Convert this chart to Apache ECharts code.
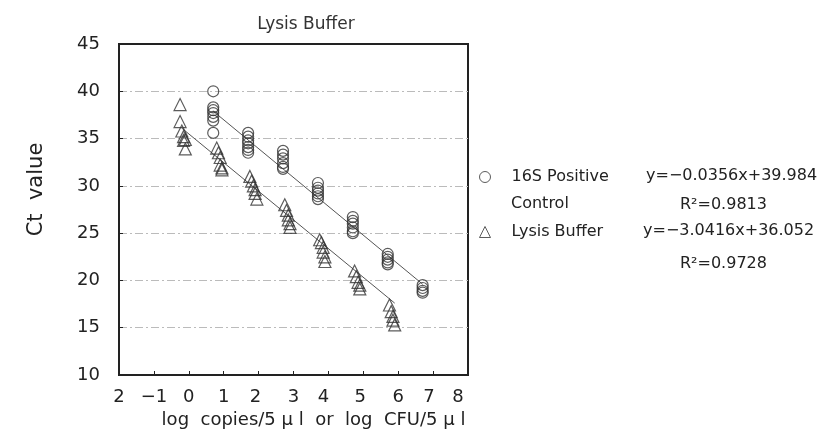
<!DOCTYPE html>
<html>
<head>
<meta charset="utf-8">
<script src="https://cdn.jsdelivr.net/npm/echarts@6/dist/echarts.min.js"></script>
<style>
  html, body { margin: 0; padding: 0; background: #fff; }
  #myChart { width: 819px; height: 429px; }
</style>
</head>
<body>
<div id="myChart"></div>
<script>
  // 16S Positive Control: one log value per dilution, several Ct replicates each
  var controlLog = [0.7, 1.7, 2.7, 3.7, 4.7, 5.7, 6.7];
  var controlCt = [
    [40.0, 38.3, 38.0, 37.7, 37.3, 36.9, 35.6],
    [35.6, 35.2, 34.8, 34.5, 34.1, 33.8, 33.5],
    [33.7, 33.3, 32.9, 32.4, 32.0, 31.8],
    [30.3, 29.8, 29.5, 29.2, 28.9, 28.6],
    [26.7, 26.3, 26.0, 25.6, 25.2, 25.0],
    [22.8, 22.5, 22.2, 21.9, 21.7],
    [19.5, 19.2, 18.9, 18.7]
  ];
  // Lysis Buffer points (x drifts a little inside each dilution)
  var lysisLog = [-0.25, -0.25, -0.2, -0.15, -0.1, -0.15, -0.1,
    0.8, 0.85, 0.9, 0.9, 0.95, 0.95,
    1.75, 1.8, 1.85, 1.9, 1.9, 1.95,
    2.75, 2.8, 2.85, 2.85, 2.9, 2.9,
    3.75, 3.8, 3.85, 3.85, 3.9, 3.9,
    4.75, 4.8, 4.85, 4.9, 4.9,
    5.75, 5.8, 5.85, 5.85, 5.9];
  var lysisCt = [38.6, 36.8, 35.8, 35.2, 34.9, 34.8, 33.9,
    34.0, 33.5, 33.0, 32.2, 31.9, 31.7,
    31.0, 30.5, 30.0, 29.6, 29.2, 28.6,
    28.0, 27.4, 26.9, 26.4, 26.0, 25.6,
    24.3, 24.0, 23.5, 23.0, 22.5, 22.0,
    21.0, 20.4, 19.8, 19.5, 19.1,
    17.4, 16.7, 16.2, 15.8, 15.3];
  // trend lines as drawn
  var controlTrendX = [0.7, 6.7];
  var controlTrendY = [37.9, 19.6];
  var lysisTrendX = [-0.2, 5.9];
  var lysisTrendY = [36.1, 17.6];

  var seriesNames = ['16S Positive', 'Lysis Buffer'];
  var equations = ['y=\u22120.0356x+39.984', 'y=\u22123.0416x+36.052'];
  var rSquared = ['0.9813', '0.9728'];

  var controlData = [];
  for (var i = 0; i < controlLog.length; i++) {
    for (var j = 0; j < controlCt[i].length; j++) {
      controlData.push([controlLog[i], controlCt[i][j]]);
    }
  }
  var lysisData = [];
  for (var k = 0; k < lysisLog.length; k++) {
    lysisData.push([lysisLog[k], lysisCt[k]]);
  }
  function pairs(xs, ys) {
    var out = [];
    for (var n = 0; n < xs.length; n++) out.push([xs[n], ys[n]]);
    return out;
  }

  var font = '"DejaVu Sans", sans-serif';
  var textColor = '#222';
  // the printed x labels sit a little off their ticks
  var xLabelShift = { '2': -3, '4': -5, '5': -3, '7': -4, '8': -10 };

  var myChart = echarts.init(document.getElementById('myChart'));
  var option = {
    animation: false,
    backgroundColor: '#fff',
    textStyle: { fontFamily: font },
    title: {
      text: 'Lysis Buffer',
      left: 301,
      textAlign: 'center',
      top: 11,
      textStyle: { fontSize: 17, fontWeight: 'normal', color: '#333', fontFamily: font }
    },
    grid: {
      left: 119, right: 351, top: 44, bottom: 54,
      containLabel: false,
      outerBoundsMode: 'none',
      show: true, borderColor: '#222', borderWidth: 2
    },
    legend: {
      orient: 'vertical',
      left: 474,
      top: 162,
      itemWidth: 11,
      itemHeight: 11,
      itemGap: 35,
      data: [
        { name: seriesNames[0], icon: 'circle' },
        { name: seriesNames[1], icon: 'triangle' }
      ],
      itemStyle: { color: 'rgba(0,0,0,0)', borderColor: '#333', borderWidth: 1 },
      textStyle: { fontSize: 16, color: textColor, fontFamily: font, lineHeight: 20, padding: [0, 0, 0, 16] }
    },
    xAxis: {
      type: 'value',
      min: -2, max: 8, interval: 1,
      name: 'log  copies/5 \u03bc l  or  log  CFU/5 \u03bc l',
      nameLocation: 'middle',
      nameGap: 36,
      nameTextStyle: { fontSize: 18, color: textColor, fontFamily: font, padding: [0, 0, 0, 40] },
      axisLine: { onZero: false, lineStyle: { color: '#222', width: 2 } },
      axisTick: { inside: true, length: 4, lineStyle: { color: '#222' } },
      axisLabel: {
        fontSize: 18, color: textColor, margin: 13,
        formatter: function (v) {
          var s = v === -2 ? '2' : (v < 0 ? '\u2212' + Math.abs(v) : String(v));
          var d = xLabelShift[String(v)];
          return d ? '{s' + (-d) + '|' + s + '}' : s;
        },
        rich: {
          s3: { fontSize: 18, color: textColor, padding: [0, 6, 0, 0] },
          s4: { fontSize: 18, color: textColor, padding: [0, 8, 0, 0] },
          s5: { fontSize: 18, color: textColor, padding: [0, 10, 0, 0] },
          s10: { fontSize: 18, color: textColor, padding: [0, 20, 0, 0] }
        }
      },
      splitLine: { show: false }
    },
    yAxis: {
      type: 'value',
      min: 10, max: 45, interval: 5,
      name: 'Ct  value',
      nameLocation: 'middle',
      nameGap: 72,
      nameRotate: 90,
      nameTextStyle: { fontSize: 21, color: textColor, fontFamily: font, padding: [0, 0, 0, 40] },
      axisLine: { onZero: false, lineStyle: { color: '#222', width: 2 } },
      axisTick: { inside: true, length: 4, lineStyle: { color: '#222' } },
      axisLabel: { fontSize: 18, color: textColor, margin: 19 },
      splitLine: {
        show: true, showMinLine: false, showMaxLine: false,
        lineStyle: { color: '#bbb', width: 1, type: [8, 3, 2, 3] }
      }
    },
    graphic: [
      { type: 'text', left: 511, top: 196, style: { text: 'Control', fill: textColor, font: '16px ' + font } },
      { type: 'text', left: 646, top: 168, style: { text: equations[0], fill: textColor, font: '16px ' + font } },
      { type: 'text', left: 680, top: 197, style: { text: 'R\u00b2=' + rSquared[0], fill: textColor, font: '16px ' + font } },
      { type: 'text', left: 643, top: 223, style: { text: equations[1], fill: textColor, font: '16px ' + font } },
      { type: 'text', left: 680, top: 256, style: { text: 'R\u00b2=' + rSquared[1], fill: textColor, font: '16px ' + font } }
    ],
    series: [
      {
        name: seriesNames[0],
        type: 'scatter',
        symbol: 'circle',
        symbolSize: 11,
        itemStyle: { color: 'rgba(0,0,0,0)', borderColor: '#333', borderWidth: 1.2 },
        data: controlData,
        z: 3
      },
      {
        name: seriesNames[1],
        type: 'scatter',
        symbol: 'triangle',
        symbolSize: 12,
        itemStyle: { color: 'rgba(0,0,0,0)', borderColor: '#333', borderWidth: 1.2 },
        data: lysisData,
        z: 3
      },
      {
        type: 'line',
        data: pairs(controlTrendX, controlTrendY),
        symbol: 'none',
        lineStyle: { color: '#555', width: 1 },
        silent: true,
        z: 2
      },
      {
        type: 'line',
        data: pairs(lysisTrendX, lysisTrendY),
        symbol: 'none',
        lineStyle: { color: '#555', width: 1 },
        silent: true,
        z: 2
      }
    ]
  };
  myChart.setOption(option);
</script>
</body>
</html>
